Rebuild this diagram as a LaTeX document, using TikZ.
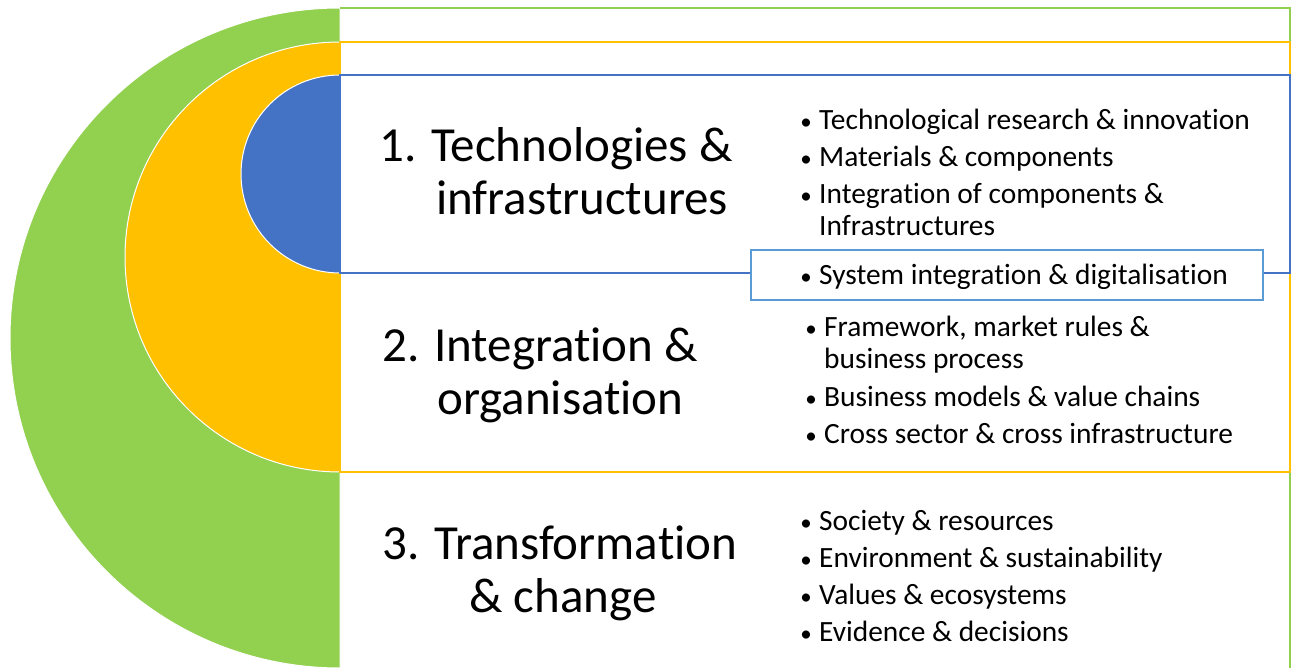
\documentclass[tikz,border=0pt]{standalone}
\usepackage{fontspec}
\setmainfont{Carlito}[Ligatures={NoCommon}]
\definecolor{cgreen}{HTML}{92D050}
\definecolor{corange}{HTML}{FFC000}
\definecolor{cblue}{HTML}{4472C4}
\definecolor{cbox}{HTML}{5B9BD5}
\begin{document}
\begin{tikzpicture}[x=1pt,y=-1pt,
  title/.style={anchor=base west, inner sep=0pt, font=\fontsize{49}{50}\selectfont},
  item/.style={anchor=base west, inner sep=0pt, font=\fontsize{29.4}{32}\selectfont},
  dot/.style={anchor=base, inner sep=0pt, font=\fontsize{23}{24}\selectfont},
  frame/.style={line width=1.5pt}]
\useasboundingbox (0,0) rectangle (1295,668);
% green level
\fill[cgreen, draw=white, line width=1pt] (340,8) arc[start angle=90, end angle=270, radius=330pt] -- cycle;
\draw[frame, cgreen] (340,8) -- (1290,8) -- (1290,668);
% orange level
\fill[corange, draw=white, line width=1pt] (340,42) arc[start angle=90, end angle=270, radius=215pt] -- cycle;
\draw[frame, corange] (340,42) rectangle (1290,472);
% blue level
\fill[cblue, draw=white, line width=1pt] (340,75) arc[start angle=90, end angle=270, radius=99pt] -- cycle;
\draw[frame, cblue] (340,75) rectangle (1290,273);
% system integration box
\node[draw=cbox, fill=white, line width=2pt, minimum width=512pt, minimum height=50pt, inner sep=0pt, anchor=north west] (sysbox) at (750,249) {};

% titles
\node[title] (t1a) at (379,162) {1. Technologies \&};
\node[title] (t1b) at (436,215) {infrastructures};
\node[title] (t2a) at (382,361) {2. Integration \&};
\node[title] (t2b) at (437,414) {organisation};
\node[title] (t3a) at (382,559) {3. Transformation};
\node[title] (t3b) at (469,612) {\& change};

% group 1
\node[dot] (d11) at (806,130) {•};
\node[item] (i11) at (819,130) {Technological research \& innovation};
\node[dot] (d12) at (806,167) {•};
\node[item] (i12) at (819,167) {Materials \& components};
\node[dot] (d13) at (806,204) {•};
\node[item] (i13) at (819,204) {Integration of components \&};
\node[item] (i13b) at (819,236) {Infrastructures};
% box
\node[dot] (d14) at (806,284) {•};
\node[item] (i14) at (819,284) {System integration \& digitalisation};
% group 2
\node[dot] (d21) at (811,336) {•};
\node[item] (i21) at (824,336) {Framework, market rules \&};
\node[item] (i21b) at (824,368) {business process};
\node[dot] (d22) at (811,406) {•};
\node[item] (i22) at (824,406) {Business models \& value chains};
\node[dot] (d23) at (811,443) {•};
\node[item] (i23) at (824,443) {Cross sector \& cross infrastructure};
% group 3
\node[dot] (d31) at (806,530) {•};
\node[item] (i31) at (819,530) {Society \& resources};
\node[dot] (d32) at (806,567) {•};
\node[item] (i32) at (819,567) {Environment \& sustainability};
\node[dot] (d33) at (806,604) {•};
\node[item] (i33) at (819,604) {Values \& ecosystems};
\node[dot] (d34) at (806,641) {•};
\node[item] (i34) at (819,641) {Evidence \& decisions};
\end{tikzpicture}
\end{document}
